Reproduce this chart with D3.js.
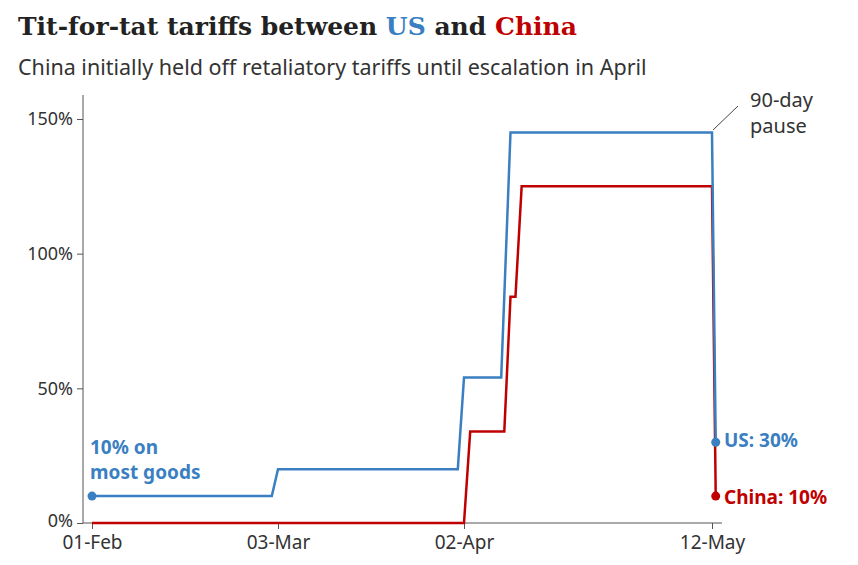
<!DOCTYPE html>
<html>
<head>
<meta charset="utf-8">
<script src="https://cdn.jsdelivr.net/npm/d3@7"></script>
<style>
body { margin: 0; background: #fff; }
text { font-family: "Noto Sans", sans-serif; }
</style>
</head>
<body>
<svg width="858" height="565"></svg>
<script>
"use strict"

// days since 01-Feb, tariff %
const usDays = [0, 29, 30, 59, 60, 66, 67.5, 100, 100.6]
const usValues = [10, 10, 20, 20, 54, 54, 145, 145, 30]
const chinaDays = [0, 60, 61, 66.5, 67.5, 68.3, 69.3, 100, 100.6]
const chinaValues = [0, 0, 34, 34, 84, 84, 125, 125, 10]
const xTickDays = [0, 30, 60, 100]
const xTickLabels = ["01-Feb", "03-Mar", "02-Apr", "12-May"]
const yTicks = [0, 50, 100, 150]

const BLUE = "#3a7fc1"
const RED = "#c00000"

const svg = d3.select("svg")
const x = d3.scaleLinear().domain([0, 100]).range([92, 712])
const y = d3.scaleLinear().domain([0, 150]).range([523, 119])

svg.append("text").attr("x", 18).attr("y", 35)
    .style("font-family", "DejaVu Serif").attr("font-weight", "bold").attr("font-size", 25).attr("fill", "#222")
    .call(t => {
        t.append("tspan").text("Tit-for-tat tariffs between ")
        t.append("tspan").attr("fill", BLUE).text("US")
        t.append("tspan").text(" and ")
        t.append("tspan").attr("fill", RED).text("China")
    })
svg.append("text").attr("x", 18).attr("y", 75).attr("font-size", 21.5).attr("fill", "#333")
    .text("China initially held off retaliatory tariffs until escalation in April")

// y axis
const yAxis = svg.append("g").attr("transform", "translate(83,0)")
    .call(d3.axisLeft(y).tickValues(yTicks).tickSize(6).tickFormat(d => d + "%"))
yAxis.select(".domain").remove()
yAxis.append("line").attr("y1", 95).attr("y2", 523).attr("stroke", "#555")
yAxis.selectAll(".tick line").attr("stroke", "#555")
yAxis.selectAll(".tick text").attr("font-size", 18).attr("fill", "#333")
    .attr("font-family", "Noto Sans").attr("x", -10)
yAxis.selectAll(".tick text").filter(d => d === 0).attr("dy", "0.2em")

// x axis
const xAxis = svg.append("g").attr("transform", "translate(0,523)")
    .call(d3.axisBottom(x).tickValues(xTickDays).tickSize(6)
        .tickFormat((d, i) => xTickLabels[i]))
xAxis.select(".domain").remove()
xAxis.append("line").attr("x1", 83).attr("x2", 722).attr("stroke", "#555")
xAxis.selectAll(".tick line").attr("stroke", "#555")
xAxis.selectAll(".tick text").attr("font-size", 19).attr("fill", "#333")
    .attr("font-family", "Noto Sans").attr("dy", "0.9em")

const line = d3.line().x(d => x(d[0])).y(d => y(d[1]))
const series = [
    { days: chinaDays, values: chinaValues, color: RED },
    { days: usDays, values: usValues, color: BLUE }
]
series.forEach(s => {
    const pts = s.days.map((d, i) => [d, s.values[i]])
    svg.append("path").datum(pts).attr("d", line)
        .attr("fill", "none").attr("stroke", s.color).attr("stroke-width", 2.5)
    svg.append("circle").attr("cx", x(pts[pts.length - 1][0])).attr("cy", y(pts[pts.length - 1][1]))
        .attr("r", 4.5).attr("fill", s.color)
})
svg.append("circle").attr("cx", x(0)).attr("cy", y(10)).attr("r", 4.5).attr("fill", BLUE)

// annotations
svg.append("text").attr("x", 90).attr("y", 454).attr("font-size", 19).attr("font-weight", "bold")
    .attr("fill", BLUE).text("10% on")
svg.append("text").attr("x", 90).attr("y", 479).attr("font-size", 19).attr("font-weight", "bold")
    .attr("fill", BLUE).text("most goods")
svg.append("text").attr("x", 724).attr("y", 447).attr("font-size", 19).attr("font-weight", "bold")
    .attr("fill", BLUE).text("US: 30%")
svg.append("text").attr("x", 724).attr("y", 504).attr("font-size", 19).attr("font-weight", "bold")
    .attr("fill", RED).text("China: 10%")
svg.append("line").attr("x1", 713).attr("y1", 130).attr("x2", 738).attr("y2", 106)
    .attr("stroke", "#444").attr("stroke-width", 1)
svg.append("text").attr("x", 750).attr("y", 107).attr("font-size", 20).attr("fill", "#333").text("90-day")
svg.append("text").attr("x", 750).attr("y", 133).attr("font-size", 20).attr("fill", "#333").text("pause")
</script>
</body>
</html>
